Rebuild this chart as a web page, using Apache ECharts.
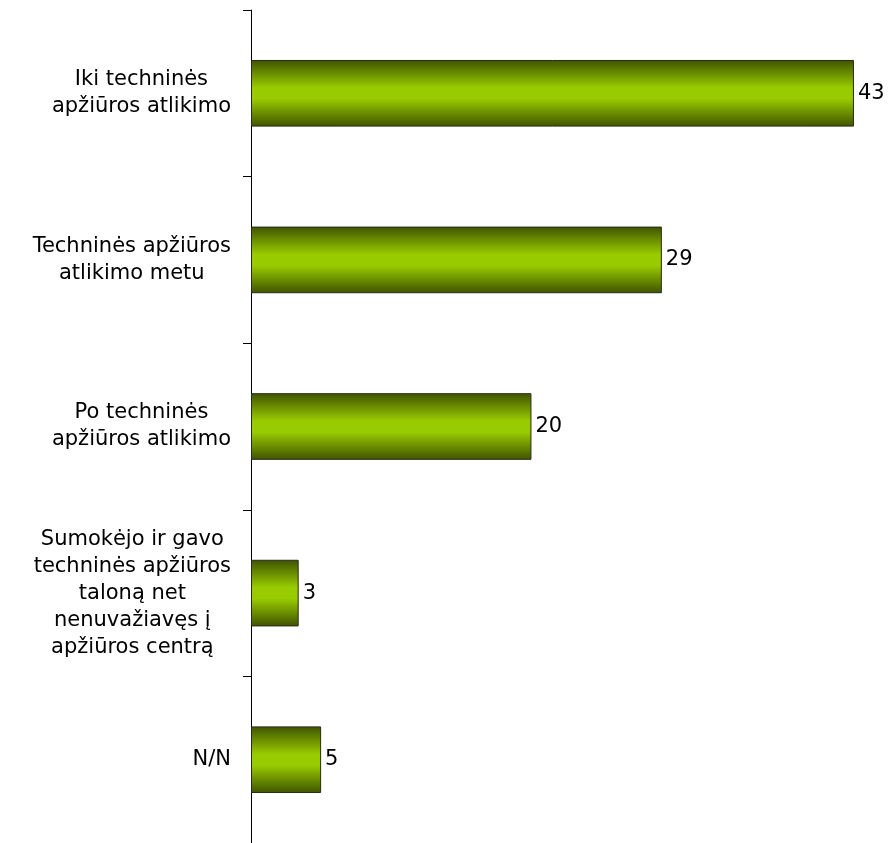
<!DOCTYPE html>
<html>
<head>
<meta charset="utf-8">
<script src="https://cdn.jsdelivr.net/npm/echarts@6/dist/echarts.min.js"></script>
<style>html,body{margin:0;padding:0;background:#fff}#c{width:894px;height:843px}</style>
</head>
<body>
<div id="c"></div>
<script>
const categories = [
  "Iki techninės\napžiūros atlikimo",
  "Techninės apžiūros\natlikimo metu",
  "Po techninės\napžiūros atlikimo",
  "Sumokėjo ir gavo\ntechninės apžiūros\ntaloną net\nnenuvažiavęs į\napžiūros centrą",
  "N/N"
];
const values = [43, 29.3, 20, 3.4, 5];
const valueLabels = ["43", "29", "20", "3", "5"];

const FONT = '"DejaVu Sans", Verdana, sans-serif';
const chart = echarts.init(document.getElementById('c'));
chart.setOption({
  animation: false,
  grid: { left: 251, top: 10, width: 631, height: 837.5, containLabel: false },
  xAxis: { type: 'value', min: 0, max: 45, show: false },
  yAxis: {
    type: 'category',
    inverse: true,
    data: categories,
    axisLine: { show: true, lineStyle: { color: '#000', width: 1 } },
    axisTick: { show: true, length: 8, lineStyle: { color: '#000' } },
    axisLabel: {
      margin: 20,
      fontFamily: FONT,
      fontSize: 21,
      color: '#000',
      lineHeight: 27,
      formatter: function (v) {
        return v.split('\n').map(function (l) { return '{c|' + l + '}'; }).join('\n');
      },
      rich: { c: { align: 'center', fontFamily: FONT, fontSize: 21, lineHeight: 27, color: '#000' } }
    },
    splitLine: { show: false }
  },
  series: [{
    type: 'bar',
    data: values,
    barCategoryGap: '60%',
    itemStyle: {
      borderColor: '#2a2a1a',
      borderWidth: 1,
      color: new echarts.graphic.LinearGradient(0, 0, 0, 1, [
        { offset: 0, color: '#3f5300' },
        { offset: 0.42, color: '#99cc00' },
        { offset: 0.58, color: '#99cc00' },
        { offset: 1, color: '#3f5300' }
      ])
    },
    label: {
      show: true,
      position: 'right',
      distance: 4,
      fontFamily: FONT,
      fontSize: 21,
      color: '#000',
      formatter: function (p) { return valueLabels[p.dataIndex]; }
    }
  }]
});
</script>
</body>
</html>
